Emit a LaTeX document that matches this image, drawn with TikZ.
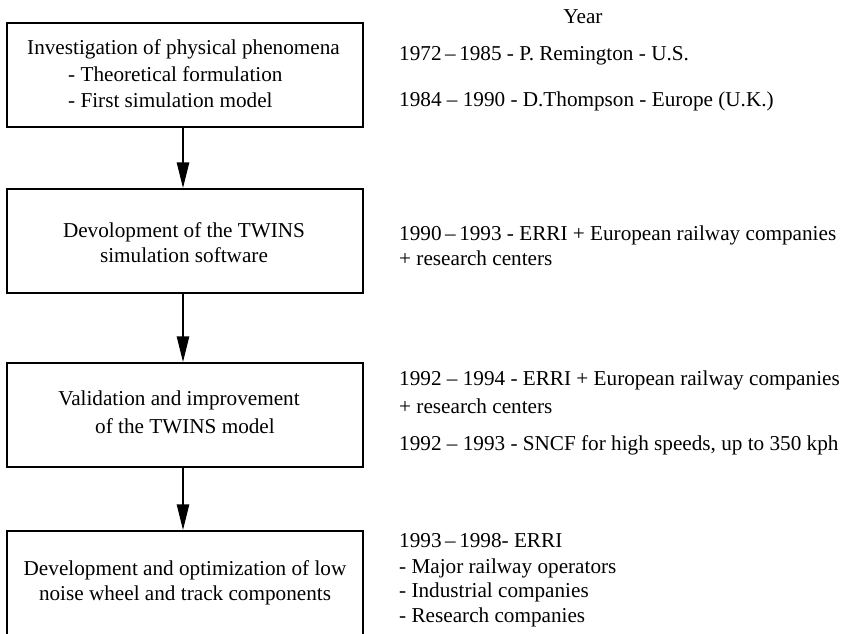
\documentclass[tikz,border=0pt]{standalone}
\usepackage{fontspec}
\setmainfont{Liberation Serif}
\usetikzlibrary{arrows.meta}
\begin{document}
\begin{tikzpicture}[x=1pt,y=-1pt,
  box/.style={draw,line width=1.5pt,minimum width=356pt,inner sep=0pt},
  txt/.style={inner sep=0pt,anchor=base,font=\fontsize{21.2}{26}\selectfont},
  ltxt/.style={txt,anchor=base west},
  flow/.style={line width=2.7pt,-{Triangle[width=12pt,length=26pt]}}]
\useasboundingbox (0,0) rectangle (843,633);
\clip (0,0) rectangle (843,633);
% boxes
\node[box,minimum height=104pt] (b1) at (185,75) {};
\node[box,minimum height=104pt] (b2) at (185,241) {};
\node[box,minimum height=104pt] (b3) at (185,415) {};
\node[box,minimum height=130pt] (b4) at (185,596) {};
% connectors
\draw[flow] ([xshift=-2pt]b1.south) -- ([xshift=-2pt]b2.north);
\draw[flow] ([xshift=-2pt]b2.south) -- ([xshift=-2pt]b3.north);
\draw[flow] ([xshift=-2pt]b3.south) -- ([xshift=-2pt]b4.north);
% box texts
\node[ltxt] (b1a) at (27,54) {Investigation of physical phenomena};
\node[ltxt] (b1b) at (68,81) {- Theoretical formulation};
\node[ltxt] (b1c) at (68,107) {- First simulation model};
\node[txt] (b2a) at (184,237) {Devolopment of the TWINS};
\node[txt] (b2b) at (184,262) {simulation software};
\node[txt] (b3a) at (179,405) {Validation and improvement};
\node[txt] (b3b) at (185,433) {of the TWINS model};
\node[txt] (b4a) at (185,575) {Development and optimization of low};
\node[txt] (b4b) at (185,600) {noise wheel and track components};
% right column
\node[txt] (year) at (583,23) {Year};
\node[ltxt] (r1a) at (399,60) {1972\,–\,1985 - P. Remington - U.S.};
\node[ltxt] (r1b) at (399,106) {1984 – 1990 - D.Thompson - Europe (U.K.)};
\node[ltxt] (r2a) at (399,240) {1990\,–\,1993 - ERRI + European railway companies};
\node[ltxt] (r2b) at (399,265) {+ research centers};
\node[ltxt] (r3a) at (399,385) {1992 – 1994 - ERRI + European railway companies};
\node[ltxt] (r3b) at (399,413) {+ research centers};
\node[ltxt] (r3c) at (399,450) {1992 – 1993 - SNCF for high speeds, up to 350 kph};
\node[ltxt] (r4a) at (399,547) {1993\,–\,1998- ERRI};
\node[ltxt] (r4b) at (399,573) {- Major railway operators};
\node[ltxt] (r4c) at (399,597) {- Industrial companies};
\node[ltxt] (r4d) at (399,622) {- Research companies};
\end{tikzpicture}
\end{document}
